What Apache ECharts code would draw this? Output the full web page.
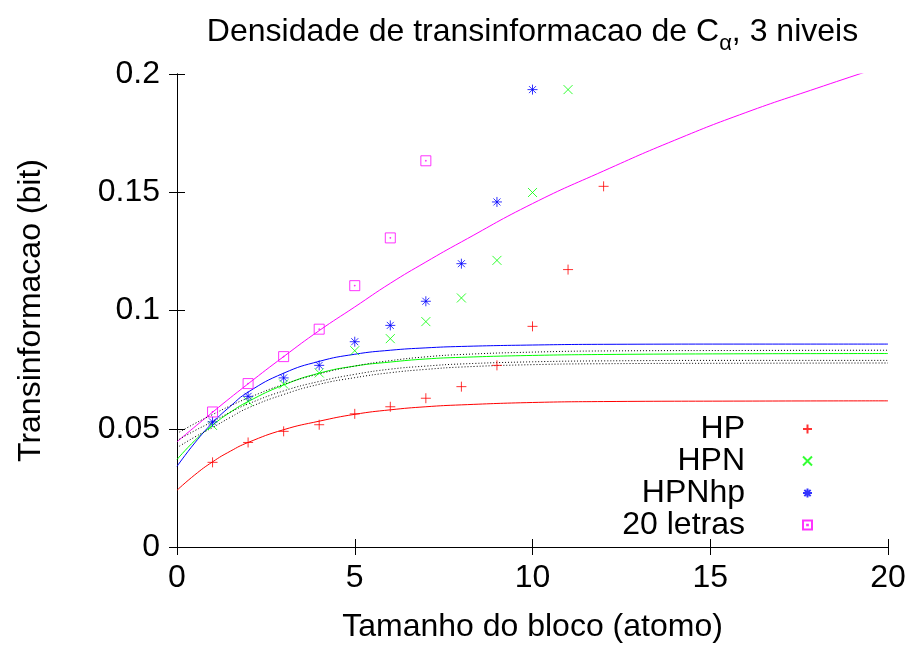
<!DOCTYPE html>
<html>
<head>
<meta charset="utf-8">
<script src="https://cdn.jsdelivr.net/npm/echarts@6/dist/echarts.min.js"></script>
<style>html,body{margin:0;padding:0;background:#fff;}#c{width:914px;height:648px;}</style>
</head>
<body>
<div id="c"></div>
<script>
// ---- data ----
const ptX_HP = [1,2,3,4,5,6,7,8,9,10,11,12];
const ptY_HP = [0.0358,0.0442,0.0489,0.0517,0.0563,0.0593,0.0629,0.0678,0.0768,0.0933,0.1173,0.1525];
const ptX_HPN = [1,2,3,4,5,6,7,8,9,10,11];
const ptY_HPN = [0.0514,0.0616,0.0689,0.0736,0.0830,0.0881,0.0953,0.1053,0.1212,0.1499,0.1934];
const ptX_HPNhp = [1,2,3,4,5,6,7,8,9,10];
const ptY_HPNhp = [0.0529,0.0637,0.0715,0.0768,0.0868,0.0937,0.1039,0.1198,0.1459,0.1934];
const ptX_20 = [1,2,3,4,5,6,7];
const ptY_20 = [0.0571,0.0691,0.0805,0.0921,0.1105,0.1307,0.1633];

// fitted curves
const fitX = [0,0.5,1,1.5,2,3,4,5,6,7,8,10,12,16,20];
const fitHP    = [0.0240,0.0305,0.0360,0.0405,0.0442,0.0496,0.0532,0.0561,0.0580,0.0593,0.0601,0.0611,0.0615,0.0617,0.0618];
const fitHPN   = [0.0370,0.0450,0.0515,0.0570,0.0615,0.0685,0.0735,0.0765,0.0782,0.0795,0.0802,0.0810,0.0814,0.0817,0.0818];
const fitHPNhp = [0.0341,0.0440,0.0525,0.0595,0.0655,0.0735,0.0785,0.0815,0.0832,0.0842,0.0848,0.0854,0.0857,0.0858,0.0858];
const dot1     = [0.0480,0.0522,0.0560,0.0597,0.0630,0.0688,0.0732,0.0765,0.0788,0.0804,0.0814,0.0824,0.0829,0.0831,0.0832];
const dot2     = [0.0450,0.0492,0.0530,0.0570,0.0605,0.0660,0.0700,0.0730,0.0752,0.0765,0.0774,0.0783,0.0787,0.0789,0.0789];
const dot3     = [0.0420,0.0465,0.0505,0.0548,0.0588,0.0645,0.0688,0.0716,0.0737,0.0751,0.0761,0.0771,0.0775,0.0777,0.0778];
const fitX20 = [0,1,2,3,4,5,6,7,8,10,12,14,16,18,20];
const fit20  = [0.0445,0.0570,0.0690,0.0805,0.0915,0.1015,0.1115,0.1205,0.1290,0.1452,0.1590,0.1720,0.1837,0.1940,0.2040];

const xTicks = [0,5,10,15,20];
const yTicks = [0,0.05,0.1,0.15,0.2];
const legendNames = ['HP','HPN','HPNhp','20 letras'];

// ---- build ----
const zip = (xs, ys) => xs.map((x, i) => [x, ys[i]]);
const FONT = 'Liberation Sans, Arial, Helvetica, sans-serif';
const symPlus = 'path://M5,0L5,10M0,5L10,5';
const symX = 'path://M0,0L10,10M10,0L0,10';
const symStar = 'path://M5,0L5,10M0,5L10,5M1.5,1.5L8.5,8.5M8.5,1.5L1.5,8.5';
const symSq = 'path://M0,0L10,0L10,10L0,10ZM4.6,4.6L5.4,4.6L5.4,5.4L4.6,5.4Z';

function pts(name, data, color, sym, size) {
  return {
    name, type: 'scatter', data, symbol: sym, symbolSize: size,
    itemStyle: { color: 'rgba(0,0,0,0)', borderColor: color, borderWidth: 1 },
    xAxisIndex: 0, yAxisIndex: 0, z: 3, silent: true
  };
}
function curve(name, data, color, dotted) {
  return {
    name, type: 'line', data, smooth: 0.5, showSymbol: false, symbol: 'none',
    lineStyle: { color, width: 1, type: dotted ? [1, 2] : 'solid' },
    clip: true, silent: true, z: 2
  };
}

const axisCommon = {
  type: 'value', min: 0, axisLine: { show: true, lineStyle: { color: '#000', width: 1 } },
  axisTick: { show: true, inside: true, length: 8, lineStyle: { color: '#000', width: 1 } },
  splitLine: { show: false }, minorTick: { show: false }
};

const chart = echarts.init(document.getElementById('c'), null, { renderer: 'canvas' });
chart.setOption({
  animation: false,
  backgroundColor: '#fff',
  textStyle: { fontFamily: FONT },
  grid: { left: 177, top: 74, right: 26, bottom: 101, containLabel: false },
  xAxis: [
    Object.assign({}, axisCommon, {
      position: 'bottom', max: 20, interval: 5,
      axisLabel: { show: true, margin: 15, fontSize: 32, color: '#000', fontFamily: FONT },
      name: 'Tamanho do bloco (atomo)', nameLocation: 'middle', nameGap: 64,
      nameTextStyle: { fontSize: 32, color: '#000', fontFamily: FONT }
    }),
    Object.assign({}, axisCommon, {
      position: 'top', max: 20, interval: 5, axisLabel: { show: false },
      name: '{a|Densidade de transinformacao de C}{s|α}{a|, 3 niveis}',
      nameLocation: 'middle', nameGap: 19,
      nameTextStyle: {
        color: '#000', fontFamily: FONT, fontSize: 32,
        rich: {
          a: { fontSize: 32, color: '#000', fontFamily: FONT, verticalAlign: 'top' },
          s: { fontSize: 22, color: '#000', fontFamily: FONT, verticalAlign: 'top', padding: [17, 0, 0, 0] }
        }
      }
    })
  ],
  yAxis: [
    Object.assign({}, axisCommon, {
      position: 'left', max: 0.2, interval: 0.05,
      axisLabel: { show: true, margin: 17, fontSize: 32, color: '#000', fontFamily: FONT,
        formatter: v => String(+v.toFixed(2)) },
      name: 'Transinformacao (bit)', nameLocation: 'middle', nameGap: 130, nameRotate: 90,
      nameTextStyle: { fontSize: 32, color: '#000', fontFamily: FONT }
    }),
    Object.assign({}, axisCommon, {
      position: 'right', max: 0.2, interval: 0.05, axisLabel: { show: false }
    })
  ],
  legend: {
    data: legendNames, orient: 'vertical', align: 'right',
    right: 96, top: 408, itemGap: 0, itemWidth: 9, itemHeight: 9,
    textStyle: { fontSize: 32, color: '#000', fontFamily: FONT, lineHeight: 32, padding: [0, 53, 0, 0] },
    selectedMode: false
  },
  series: [
    curve('fit HP', zip(fitX, fitHP), '#ff0000', false),
    curve('fit HPN', zip(fitX, fitHPN), '#00ff00', false),
    curve('fit HPNhp', zip(fitX, fitHPNhp), '#0000ff', false),
    curve('fit 20', zip(fitX20, fit20), '#ff00ff', false),
    curve('d1', zip(fitX, dot1), '#000000', true),
    curve('d2', zip(fitX, dot2), '#000000', true),
    curve('d3', zip(fitX, dot3), '#000000', true),
    pts('HP', zip(ptX_HP, ptY_HP), '#ff0000', symPlus, 10),
    pts('HPN', zip(ptX_HPN, ptY_HPN), '#00ff00', symX, 9),
    pts('HPNhp', zip(ptX_HPNhp, ptY_HPNhp), '#0000ff', symStar, 10),
    pts('20 letras', zip(ptX_20, ptY_20), '#ff00ff', symSq, 10)
  ]
});
</script>
</body>
</html>
